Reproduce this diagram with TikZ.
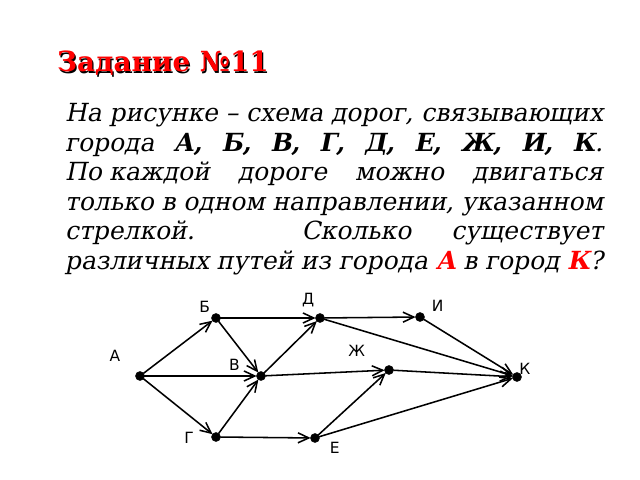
\documentclass[tikz,border=0pt]{standalone}
\usepackage{fontspec}
\usepackage{xcolor}
\usepackage{tikz}
\usepackage{tikz-network}
\usetikzlibrary{arrows.meta}
\setmainfont{DejaVu Serif}[ItalicFont = {DejaVu Serif}, ItalicFeatures = {FakeSlant = 0.2},
	BoldItalicFont = {DejaVu Serif Bold}, BoldItalicFeatures = {FakeSlant = 0.2}]
\newfontfamily\lblfont{DejaVu Sans}
\newcommand{\citylbl}{\lblfont\fontsize{22}{22}\selectfont}
\definecolor{taskred}{RGB}{255,0,0}

\begin{document}
\begin{tikzpicture}
			\useasboundingbox (0,0) rectangle (32,-24);
			\tikzset{taskline/.style = {anchor = base west, inner sep = 0pt, font = \fontsize{35.5}{42}\selectfont\itshape},
				road/.style = {-{Straight Barb[length = 0.54cm, width = 0.5cm]}}}
			% title with shadow
			\node[anchor = base west, inner sep = 0pt, text = black, font = \fontsize{39.5}{40}\selectfont\bfseries] (titleshadow) at (2.91,-3.66) {Задание №11};
			\node[anchor = base west, inner sep = 0pt, text = taskred, font = \fontsize{39.5}{40}\selectfont\bfseries] (title) at (2.85,-3.6) {Задание №11};
			% task text
			\node[taskline] (line1) at (3.25,-6.08) {\makebox[26.9cm][s]{На рисунке – схема дорог, связывающих}};
			\node[taskline] (line2) at (3.25,-7.56) {\makebox[26.9cm][s]{города \textbf{А,} \textbf{Б,} \textbf{В,} \textbf{Г,} \textbf{Д,} \textbf{Е,} \textbf{Ж,} \textbf{И,} \textbf{К}.}};
			\node[taskline] (line3) at (3.25,-9.04) {\makebox[26.9cm][s]{По\kern0.3em каждой дороге можно двигаться}};
			\node[taskline] (line4) at (3.25,-10.52) {\makebox[26.9cm][s]{только в одном направлении, указанном}};
			\node[taskline] (line5) at (3.25,-12.00) {\makebox[26.9cm][s]{стрелкой. Сколько существует}};
			\node[taskline] (line6) at (3.25,-13.48) {\makebox[26.9cm][s]{различных путей из города \textcolor{taskred}{\textbf{А}} в город \textcolor{taskred}{\textbf{К}}?}};
			% road scheme
			\Vertex[label = А, x = 7, y = -18.8, size = 0.44, color = black, fontsize = \citylbl, position = 146, distance = 0.82cm]{A}
			\Vertex[label = Б, x = 10.8, y = -15.9, size = 0.44, color = black, fontsize = \citylbl, position = 145, distance = 0cm]{B}
			\Vertex[label = В, x = 13.05, y = -18.8, size = 0.44, color = black, fontsize = \citylbl, position = 170, distance = 0.74cm]{V}
			\Vertex[label = Г, x = 10.8, y = -21.85, size = 0.44, color = black, fontsize = \citylbl, position = 182, distance = 0.76cm]{G}
			\Vertex[label = Д, x = 16, y = -15.9, size = 0.44, color = black, fontsize = \citylbl, position = 112, distance = 0.22cm]{D}
			\Vertex[label = И, x = 21, y = -15.85, size = 0.44, color = black, fontsize = \citylbl, position = 20, distance = 0.28cm]{I}
			\Vertex[label = Ж, x = 19.45, y = -18.5, size = 0.44, color = black, fontsize = \citylbl, position = 153, distance = 0.98cm]{Zh}
			\Vertex[label = Е, x = 15.75, y = -21.9, size = 0.44, color = black, fontsize = \citylbl, position = -6, distance = 0.4cm]{E}
			\Vertex[label = К, x = 25.85, y = -18.85, size = 0.44, color = black, fontsize = \citylbl, position = 5, distance = -0.22cm]{K}
			\Edge[color = black, lw = 2.2pt, style = {road}](A)(B)
			\Edge[color = black, lw = 2.2pt, style = {road}](A)(V)
			\Edge[color = black, lw = 2.2pt, style = {road}](A)(G)
			\Edge[color = black, lw = 2.2pt, style = {road}](B)(V)
			\Edge[color = black, lw = 2.2pt, style = {road}](G)(V)
			\Edge[color = black, lw = 2.2pt, style = {road}](B)(D)
			\Edge[color = black, lw = 2.2pt, style = {road}](V)(D)
			\Edge[color = black, lw = 2.2pt, style = {road}](V)(Zh)
			\Edge[color = black, lw = 2.2pt, style = {road}](G)(E)
			\Edge[color = black, lw = 2.2pt, style = {road}](E)(Zh)
			\Edge[color = black, lw = 2.2pt, style = {road}](D)(I)
			\Edge[color = black, lw = 2.2pt, style = {road}](D)(K)
			\Edge[color = black, lw = 2.2pt, style = {road}](I)(K)
			\Edge[color = black, lw = 2.2pt, style = {road}](Zh)(K)
			\Edge[color = black, lw = 2.2pt, style = {road}](E)(K)
		\end{tikzpicture}
\end{document}
